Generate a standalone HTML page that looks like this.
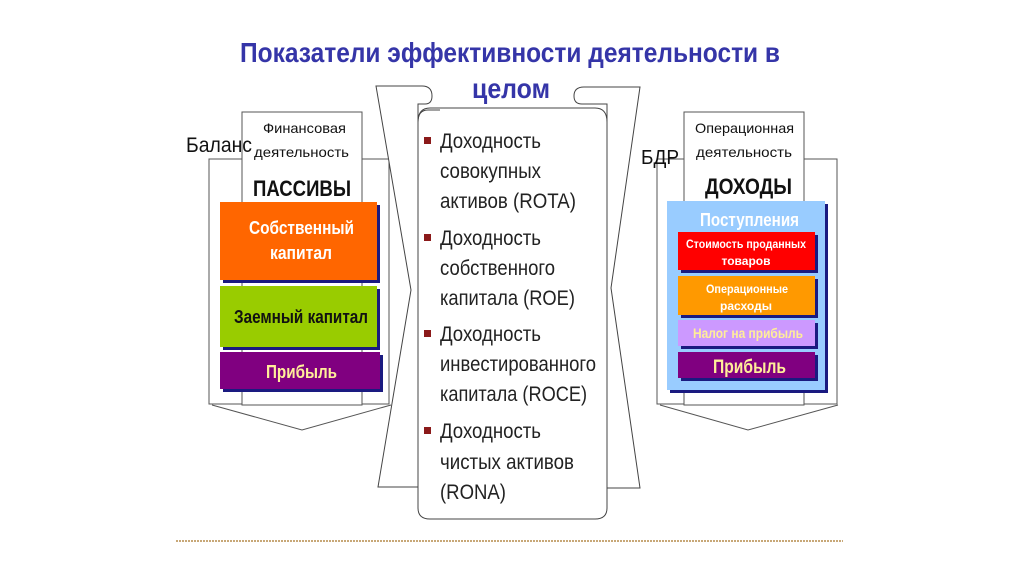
<!DOCTYPE html>
<html><head><meta charset="utf-8"><style>
html,body{margin:0;padding:0;background:#fff;}
svg{display:block;font-family:"Liberation Sans",sans-serif;}
</style></head><body>
<svg width="1024" height="574" viewBox="0 0 1024 574">
<text x="510" y="62" text-anchor="middle" font-size="28" font-weight="bold" fill="#3535a8" textLength="540" lengthAdjust="spacingAndGlyphs">Показатели эффективности деятельности в</text>
<text x="511" y="98" text-anchor="middle" font-size="28" font-weight="bold" fill="#3535a8" textLength="78" lengthAdjust="spacingAndGlyphs">целом</text>

<!-- LEFT -->
<g stroke="#555" stroke-width="1" fill="#fff">
<rect x="209" y="159" width="180" height="245"/>
<rect x="242" y="112" width="120" height="293"/>
<polyline points="212,405 302,430 391,405" fill="none"/>
</g>
<g lengthAdjust="spacingAndGlyphs">
<text x="186" y="152" font-size="21" fill="#111" textLength="66" lengthAdjust="spacingAndGlyphs">Баланс</text>
<text x="263" y="133" font-size="14" fill="#111" textLength="83" lengthAdjust="spacingAndGlyphs">Финансовая</text>
<text x="254" y="157" font-size="14" fill="#111" textLength="95" lengthAdjust="spacingAndGlyphs">деятельность</text>
<text x="253" y="196" font-size="22" font-weight="bold" fill="#111" textLength="98" lengthAdjust="spacingAndGlyphs">ПАССИВЫ</text>
</g>
<rect x="223" y="205" width="157" height="78" fill="#1a1a80"/>
<rect x="220" y="202" width="157" height="78" fill="#ff6600"/>
<text x="249" y="234" font-size="18" font-weight="bold" fill="#fff" textLength="105" lengthAdjust="spacingAndGlyphs">Собственный</text>
<text x="270" y="259" font-size="18" font-weight="bold" fill="#fff" textLength="62" lengthAdjust="spacingAndGlyphs">капитал</text>
<rect x="223" y="289" width="157" height="61" fill="#1a1a80"/>
<rect x="220" y="286" width="157" height="61" fill="#99cc00"/>
<text x="234" y="323" font-size="18" font-weight="bold" fill="#111" textLength="134" lengthAdjust="spacingAndGlyphs">Заемный капитал</text>
<rect x="223" y="355" width="160" height="37" fill="#1a1a80"/>
<rect x="220" y="352" width="160" height="37" fill="#800080"/>
<text x="266" y="378" font-size="18" font-weight="bold" fill="#ffee99" textLength="71" lengthAdjust="spacingAndGlyphs">Прибыль</text>

<!-- RIGHT -->
<g stroke="#555" stroke-width="1" fill="#fff">
<rect x="657" y="159" width="180" height="245"/>
<rect x="684" y="112" width="120" height="293"/>
<polyline points="660,405 748,430 838,405" fill="none"/>
</g>
<text x="641" y="164" font-size="20" fill="#111" textLength="38" lengthAdjust="spacingAndGlyphs">БДР</text>
<text x="695" y="133" font-size="14" fill="#111" textLength="99" lengthAdjust="spacingAndGlyphs">Операционная</text>
<text x="696" y="157" font-size="14" fill="#111" textLength="96" lengthAdjust="spacingAndGlyphs">деятельность</text>
<text x="705" y="194" font-size="22" font-weight="bold" fill="#111" textLength="87" lengthAdjust="spacingAndGlyphs">ДОХОДЫ</text>
<rect x="670" y="204" width="158" height="189" fill="#1a1a80"/>
<rect x="667" y="201" width="158" height="189" fill="#99ccff"/>
<text x="700" y="226" font-size="18" font-weight="bold" fill="#fff" textLength="99" lengthAdjust="spacingAndGlyphs">Поступления</text>
<rect x="681" y="235" width="137" height="38" fill="#1a1a80"/>
<rect x="678" y="232" width="137" height="38" fill="#ff0000"/>
<text x="686" y="248" font-size="12" font-weight="bold" fill="#fff" textLength="120" lengthAdjust="spacingAndGlyphs">Стоимость проданных</text>
<text x="746" y="265" text-anchor="middle" font-size="12" font-weight="bold" fill="#fff">товаров</text>
<rect x="681" y="279" width="137" height="39" fill="#1a1a80"/>
<rect x="678" y="276" width="137" height="39" fill="#ff9900"/>
<text x="706" y="293" font-size="12" font-weight="bold" fill="#fff" textLength="82" lengthAdjust="spacingAndGlyphs">Операционные</text>
<text x="746" y="310" text-anchor="middle" font-size="12" font-weight="bold" fill="#fff">расходы</text>
<rect x="681" y="323" width="137" height="26" fill="#1a1a80"/>
<rect x="678" y="320" width="137" height="26" fill="#cc99ff"/>
<text x="693" y="338" font-size="14" font-weight="bold" fill="#ffee99" textLength="110" lengthAdjust="spacingAndGlyphs">Налог на прибыль</text>
<rect x="681" y="355" width="137" height="26" fill="#1a1a80"/>
<rect x="678" y="352" width="137" height="26" fill="#800080"/>
<text x="713" y="373" font-size="19" font-weight="bold" fill="#ffee99" textLength="73" lengthAdjust="spacingAndGlyphs">Прибыль</text>

<!-- SCROLL -->
<g stroke="#444" stroke-width="1" fill="#fff">
<path d="M376,86 L422,86 Q432,86 432,96 Q432,104 425,104 L418,104 L418,487 L378,487 L411,290 Z"/>
<path d="M640,87 L584,87 Q574,87 574,96 Q574,104 582,104 L607,104 L607,488 L640,488 L611,288 Z"/>
<path d="M430,108 Q418,108 418,122 L418,508 Q418,519 430,519 L595,519 Q607,519 607,508 L607,122 Q607,108 595,108 Z"/>
<path d="M418,122 Q418,110 428,110 L440,110" fill="none"/>
</g>
<g font-size="21" fill="#222">
<rect x="424" y="137" width="7" height="7" fill="#8b1a1a"/>
<text x="440" y="148" textLength="101" lengthAdjust="spacingAndGlyphs">Доходность</text>
<text x="440" y="178" textLength="101" lengthAdjust="spacingAndGlyphs">совокупных</text>
<text x="440" y="208" textLength="136" lengthAdjust="spacingAndGlyphs">активов (ROTA)</text>
<rect x="424" y="234" width="7" height="7" fill="#8b1a1a"/>
<text x="440" y="245" textLength="101" lengthAdjust="spacingAndGlyphs">Доходность</text>
<text x="440" y="275" textLength="115" lengthAdjust="spacingAndGlyphs">собственного</text>
<text x="440" y="305" textLength="135" lengthAdjust="spacingAndGlyphs">капитала (ROE)</text>
<rect x="424" y="330" width="7" height="7" fill="#8b1a1a"/>
<text x="440" y="341" textLength="101" lengthAdjust="spacingAndGlyphs">Доходность</text>
<text x="440" y="371" textLength="156" lengthAdjust="spacingAndGlyphs">инвестированного</text>
<text x="440" y="401" textLength="147" lengthAdjust="spacingAndGlyphs">капитала (ROCE)</text>
<rect x="424" y="427" width="7" height="7" fill="#8b1a1a"/>
<text x="440" y="438" textLength="101" lengthAdjust="spacingAndGlyphs">Доходность</text>
<text x="440" y="469" textLength="134" lengthAdjust="spacingAndGlyphs">чистых активов</text>
<text x="440" y="499" textLength="66" lengthAdjust="spacingAndGlyphs">(RONA)</text>
</g>
<line x1="176" y1="541" x2="843" y2="541" stroke="#c8a878" stroke-width="2" stroke-dasharray="2,1"/>
</svg>
</body></html>
